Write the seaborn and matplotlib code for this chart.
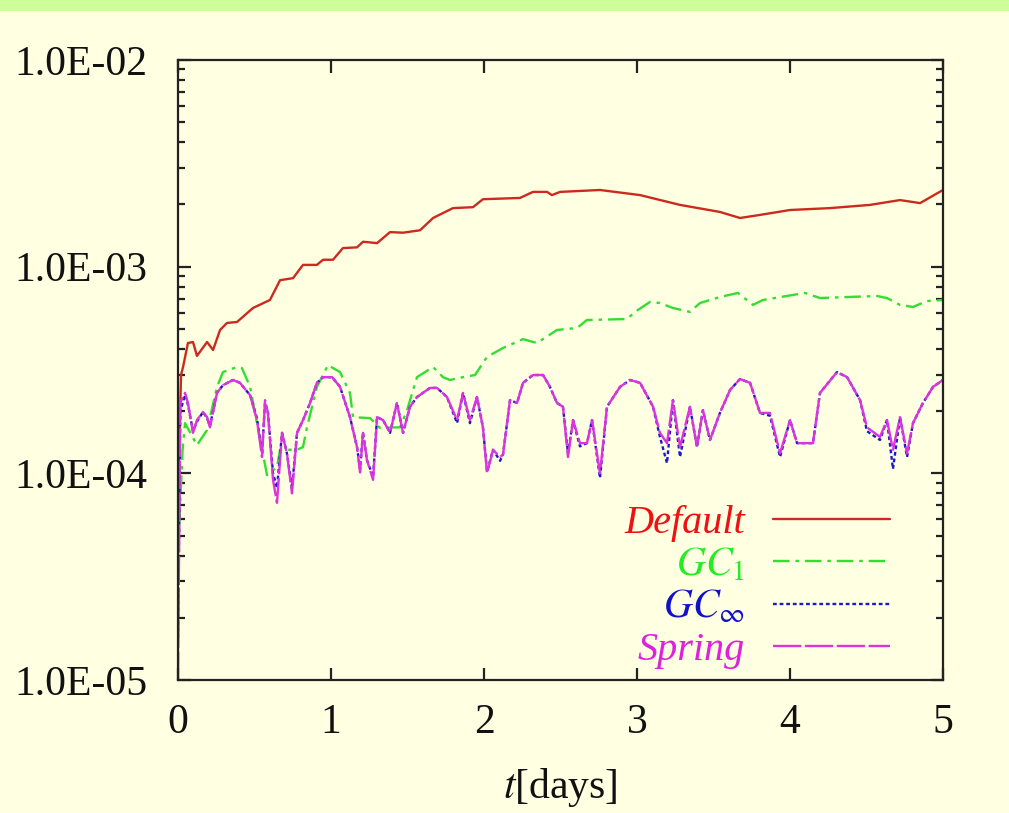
import numpy as np
import pandas as pd
import matplotlib
matplotlib.use("Agg")
import matplotlib.pyplot as plt
from matplotlib.patches import Rectangle
from matplotlib.ticker import FixedLocator, FixedFormatter, LogLocator, NullFormatter
import seaborn as sns

# ---------------- data ----------------
default_t = [0.0, 0.02, 0.033, 0.065, 0.098, 0.124, 0.19, 0.229, 0.275, 0.32, 0.386, 0.49,
             0.601, 0.667, 0.752, 0.817, 0.908, 0.948, 1.013, 1.078, 1.17, 1.209, 1.301,
             1.386, 1.471, 1.582, 1.667, 1.797, 1.928, 1.993, 2.235, 2.32, 2.412, 2.444,
             2.497, 2.758, 3.02, 3.281, 3.542, 3.673, 3.804, 4.0, 4.261, 4.523, 4.719,
             4.85, 5.0]
default_v = [8e-5, 3.0e-4, 3.27e-4, 4.27e-4, 4.32e-4, 3.70e-4, 4.32e-4, 3.95e-4, 4.94e-4,
             5.34e-4, 5.40e-4, 6.31e-4, 6.90e-4, 8.6e-4, 8.8e-4, 1.02e-3, 1.02e-3, 1.08e-3,
             1.08e-3, 1.23e-3, 1.24e-3, 1.32e-3, 1.30e-3, 1.47e-3, 1.46e-3, 1.50e-3,
             1.72e-3, 1.92e-3, 1.94e-3, 2.12e-3, 2.15e-3, 2.30e-3, 2.30e-3, 2.22e-3,
             2.30e-3, 2.35e-3, 2.22e-3, 1.99e-3, 1.84e-3, 1.72e-3, 1.78e-3, 1.88e-3,
             1.92e-3, 1.99e-3, 2.10e-3, 2.03e-3, 2.35e-3]

gc1_t = [0.0, 0.03, 0.046, 0.124, 0.19, 0.255, 0.294, 0.386, 0.418, 0.471, 0.516, 0.582,
         0.647, 0.667, 0.778, 0.817, 0.843, 0.908, 0.98, 1.059, 1.124, 1.144, 1.255, 1.32,
         1.451, 1.497, 1.562, 1.667, 1.732, 1.778, 1.863, 1.941, 2.02, 2.124, 2.255, 2.346,
         2.477, 2.608, 2.673, 2.935, 2.987, 3.085, 3.15, 3.235, 3.346, 3.412, 3.542, 3.66,
         3.758, 3.824, 4.02, 4.098, 4.196, 4.373, 4.569, 4.634, 4.719, 4.804, 4.895, 5.0]
gc1_v = [4e-5, 1.3e-4, 1.75e-4, 1.37e-4, 1.62e-4, 2.62e-4, 3.09e-4, 3.27e-4, 3.23e-4,
         2.62e-4, 1.75e-4, 9.8e-5, 1.07e-4, 1.30e-4, 1.30e-4, 1.34e-4, 1.67e-4, 2.62e-4,
         3.34e-4, 3.09e-4, 2.45e-4, 1.87e-4, 1.85e-4, 1.66e-4, 1.67e-4, 2.02e-4, 2.92e-4,
         3.27e-4, 2.92e-4, 2.83e-4, 2.92e-4, 2.99e-4, 3.66e-4, 4.04e-4, 4.46e-4, 4.27e-4,
         4.94e-4, 5.05e-4, 5.52e-4, 5.58e-4, 6.04e-4, 6.75e-4, 6.67e-4, 6.31e-4, 6.04e-4,
         6.67e-4, 7.13e-4, 7.46e-4, 6.53e-4, 6.90e-4, 7.30e-4, 7.46e-4, 7.05e-4, 7.13e-4,
         7.21e-4, 7.05e-4, 6.53e-4, 6.38e-4, 6.82e-4, 6.90e-4]

spring_t = [0.0, 0.015, 0.046, 0.065, 0.098, 0.124, 0.163, 0.19, 0.209, 0.255, 0.294, 0.359,
            0.405, 0.471, 0.516, 0.549, 0.569, 0.588, 0.621, 0.647, 0.68, 0.712, 0.745,
            0.778, 0.817, 0.863, 0.908, 0.948, 1.007, 1.059, 1.124, 1.17, 1.19, 1.209,
            1.235, 1.275, 1.301, 1.34, 1.386, 1.431, 1.471, 1.516, 1.562, 1.647, 1.693,
            1.758, 1.824, 1.863, 1.908, 1.954, 1.993, 2.02, 2.059, 2.105, 2.124, 2.17,
            2.216, 2.255, 2.32, 2.386, 2.431, 2.477, 2.516, 2.549, 2.582, 2.627, 2.673,
            2.706, 2.758, 2.804, 2.889, 2.954, 3.02, 3.105, 3.15, 3.196, 3.235, 3.281,
            3.346, 3.392, 3.431, 3.477, 3.542, 3.608, 3.673, 3.739, 3.804, 3.869, 3.935,
            4.0, 4.046, 4.15, 4.196, 4.307, 4.373, 4.458, 4.503, 4.588, 4.634, 4.673,
            4.719, 4.765, 4.804, 4.869, 4.935, 5.0]
spring_v = [1.0e-5, 2.2e-4, 2.45e-4, 2.19e-4, 1.57e-4, 1.81e-4, 1.98e-4, 1.87e-4, 1.67e-4,
            2.45e-4, 2.67e-4, 2.83e-4, 2.74e-4, 2.39e-4, 1.81e-4, 1.20e-4, 2.26e-4,
            1.96e-4, 9.3e-5, 7.2e-5, 1.57e-4, 1.25e-4, 8.0e-5, 1.57e-4, 1.81e-4, 2.19e-4,
            2.74e-4, 2.92e-4, 2.92e-4, 2.62e-4, 1.87e-4, 1.34e-4, 1.01e-4, 1.57e-4,
            1.16e-4, 9.3e-5, 1.87e-4, 1.81e-4, 1.57e-4, 2.19e-4, 1.57e-4, 2.10e-4,
            2.34e-4, 2.59e-4, 2.59e-4, 2.34e-4, 1.81e-4, 2.45e-4, 1.81e-4, 2.34e-4,
            1.67e-4, 1.00e-4, 1.30e-4, 1.20e-4, 1.23e-4, 2.26e-4, 2.19e-4, 2.74e-4,
            2.99e-4, 2.99e-4, 2.62e-4, 2.19e-4, 2.10e-4, 1.20e-4, 1.81e-4, 1.40e-4,
            1.40e-4, 1.81e-4, 1.00e-4, 2.10e-4, 2.62e-4, 2.83e-4, 2.74e-4, 2.10e-4,
            1.57e-4, 1.40e-4, 2.26e-4, 1.34e-4, 2.10e-4, 1.34e-4, 2.02e-4, 1.45e-4,
            1.96e-4, 2.53e-4, 2.86e-4, 2.74e-4, 1.96e-4, 1.96e-4, 1.25e-4, 1.81e-4,
            1.40e-4, 1.40e-4, 2.45e-4, 3.09e-4, 2.92e-4, 2.26e-4, 1.67e-4, 1.50e-4,
            1.81e-4, 1.30e-4, 1.87e-4, 1.25e-4, 1.75e-4, 2.19e-4, 2.62e-4, 2.83e-4]

gcinf_t = spring_t
gcinf_v = [1.6e-5, 2.0e-4, 2.40e-4, 2.15e-4, 1.60e-4, 1.78e-4, 1.98e-4, 1.85e-4, 1.70e-4,
           2.45e-4, 2.67e-4, 2.83e-4, 2.74e-4, 2.39e-4, 1.85e-4, 1.25e-4, 2.20e-4,
           1.96e-4, 1.00e-4, 8.5e-5, 1.57e-4, 1.25e-4, 8.5e-5, 1.57e-4, 1.81e-4, 2.19e-4,
           2.74e-4, 2.92e-4, 2.92e-4, 2.62e-4, 1.87e-4, 1.34e-4, 1.05e-4, 1.57e-4,
           1.16e-4, 9.6e-5, 1.87e-4, 1.81e-4, 1.57e-4, 2.19e-4, 1.57e-4, 2.10e-4,
           2.34e-4, 2.59e-4, 2.59e-4, 2.34e-4, 1.75e-4, 2.45e-4, 1.75e-4, 2.34e-4,
           1.67e-4, 1.02e-4, 1.30e-4, 1.15e-4, 1.23e-4, 2.26e-4, 2.19e-4, 2.74e-4,
           2.99e-4, 2.99e-4, 2.62e-4, 2.19e-4, 2.10e-4, 1.25e-4, 1.81e-4, 1.35e-4,
           1.40e-4, 1.81e-4, 9.5e-5, 2.10e-4, 2.62e-4, 2.83e-4, 2.74e-4, 2.10e-4,
           1.50e-4, 1.12e-4, 2.26e-4, 1.20e-4, 2.10e-4, 1.34e-4, 2.02e-4, 1.45e-4,
           1.96e-4, 2.53e-4, 2.86e-4, 2.74e-4, 1.96e-4, 1.90e-4, 1.20e-4, 1.81e-4,
           1.40e-4, 1.40e-4, 2.45e-4, 3.09e-4, 2.92e-4, 2.26e-4, 1.60e-4, 1.45e-4,
           1.81e-4, 1.05e-4, 1.87e-4, 1.20e-4, 1.75e-4, 2.19e-4, 2.62e-4, 2.83e-4]

series_names = ["Default", "GC1", "GCinf", "Spring"]
legend_labels = ["Default", r"$GC_1$", r"$GC_{\infty}$", "Spring"]
y_tick_vals = [1e-5, 1e-4, 1e-3, 1e-2]
y_tick_labels = ["1.0E-05", "1.0E-04", "1.0E-03", "1.0E-02"]
x_tick_vals = [0, 1, 2, 3, 4, 5]

# ---------------- styling ----------------
sns.set_theme(style="ticks")
plt.rcParams["font.family"] = ["Liberation Serif", "DejaVu Serif"]
plt.rcParams["mathtext.fontset"] = "stix"

bg = "#FFFFE2"
fig = plt.figure(figsize=(10.09, 8.13), dpi=100, facecolor=bg)
fig.patches.append(Rectangle((0, 1 - 11 / 813), 1, 11 / 813, transform=fig.transFigure,
                             facecolor="#CCFF99", edgecolor="none", zorder=0))
ax = fig.add_axes([178 / 1009, 1 - 680 / 813, 765 / 1009, 620 / 813])
ax.set_facecolor(bg)

line_colors = ["#CC2A1E", "#33DD33", "#1A1ACC", "#DD33DD"]
text_colors = ["#EE1111", "#22EE22", "#1111CC", "#DD22DD"]
dashes = [(None, None), (7, 2.5, 1.5, 2.5), (1.6, 1.2), (12, 1.5)]

data = [(default_t, default_v), (gc1_t, gc1_v), (gcinf_t, gcinf_v), (spring_t, spring_v)]
for name, (t, v), col, d, lab in zip(series_names, data, line_colors, dashes, legend_labels):
    df = pd.DataFrame({"t": t, "v": v})
    sns.lineplot(data=df, x="t", y="v", ax=ax, color=col, lw=1.7, estimator=None,
                 sort=False, label=lab)
    if d[0] is not None:
        ax.lines[-1].set_dashes(d)

ax.set_yscale("log")
ax.set_xlim(0, 5)
ax.set_ylim(1e-5, 1e-2)
ax.yaxis.set_major_locator(FixedLocator(y_tick_vals))
ax.yaxis.set_major_formatter(FixedFormatter(y_tick_labels))
ax.yaxis.set_minor_locator(LogLocator(base=10, subs=np.arange(2, 10)))
ax.yaxis.set_minor_formatter(NullFormatter())
ax.set_xticks(x_tick_vals)
ax.set_xticklabels([str(x) for x in x_tick_vals])

for s in ax.spines.values():
    s.set_linewidth(1.6)
    s.set_color("#222222")
ax.tick_params(which="both", direction="in", top=True, right=True, color="#222222",
               width=1.6, labelsize=30, labelcolor="#111111")
ax.tick_params(which="major", length=9)
ax.tick_params(which="minor", length=5)
ax.tick_params(axis="y", which="major", pad=22)
ax.tick_params(axis="x", which="major", pad=17)

ax.set_xlabel(r"$t$[days]", fontsize=30, labelpad=17, color="#111111")
ax.set_ylabel("")

leg = ax.legend(loc="lower right", bbox_to_anchor=(0.931, 0.018), frameon=False,
                markerfirst=False, handlelength=2.9, handletextpad=0.7,
                labelspacing=0.12, borderaxespad=0, borderpad=0,
                prop={"family": "Liberation Serif", "style": "italic", "size": 29})
for txt, c in zip(leg.get_texts(), text_colors):
    txt.set_color(c)

fig.savefig("out.png", dpi=100, facecolor=bg)
